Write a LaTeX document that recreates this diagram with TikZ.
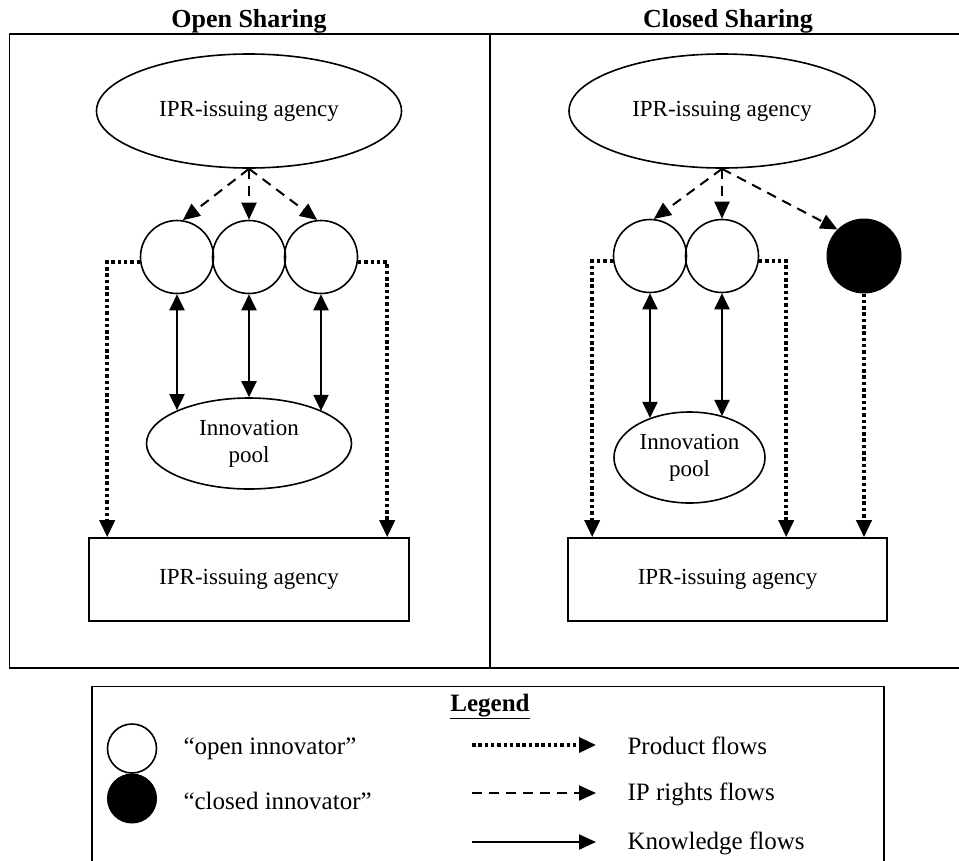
\documentclass[tikz,border=0pt]{standalone}
\usepackage{fontspec}
\setmainfont{Liberation Serif}
\usetikzlibrary{arrows.meta,shapes.geometric,calc}
\newcommand\mtxt{\fontsize{23}{27}\selectfont}
\newcommand\ltxt{\fontsize{25}{28}\selectfont}
\begin{document}
\begin{tikzpicture}[x=1pt,y=-1pt,
  arrowend/.style={-{Triangle[length=17pt,width=15pt]}},
  twoends/.style={{Triangle[length=16pt,width=15pt]}-{Triangle[length=16pt,width=15pt]}},
  prod/.style={line width=3.5pt, dash pattern=on 3.5pt off 2.8pt, arrowend},
  ipr/.style={line width=2pt, dash pattern=on 10pt off 7pt, arrowend},
  know/.style={line width=2pt, twoends},
  framestyle/.style={line width=1.8pt},
  agency/.style={ellipse, draw, line width=1.6pt, inner sep=0pt, minimum width=305pt, minimum height=114pt, font=\mtxt},
  poolnode/.style={ellipse, draw, line width=1.6pt, inner sep=0pt, minimum height=91pt, align=center, font=\mtxt},
  innov/.style={circle, draw, line width=1.6pt, inner sep=0pt, minimum size=73pt},
  closedinnov/.style={circle, fill=black, draw, line width=1pt, inner sep=0pt, minimum size=74pt},
  rectbox/.style={rectangle, draw, line width=1.6pt, inner sep=0pt, minimum width=320pt, minimum height=83pt, font=\mtxt},
  titlestyle/.style={font=\bfseries\fontsize{26}{30}\selectfont}
]
\useasboundingbox (0,0) rectangle (959,860);

% frames
\draw[framestyle] (965,34) -- (9.5,34) -- (9.5,668) -- (965,668);
\draw[framestyle] (490,34) -- (490,668);

% titles
\node[titlestyle, anchor=base] (t1) at (249,27) {Open Sharing};
\node[titlestyle, anchor=base] (t2) at (728,27) {Closed Sharing};

% ---------------- Open sharing
\node[agency] (oa) at (249,111) {IPR-issuing agency};
\node[innov] (o1) at (177,257) {};
\node[innov] (o2) at (249,257) {};
\node[innov] (o3) at (321,257) {};
\node[poolnode, minimum width=205pt] (op) at (249,443.5) {Innovation\\pool};
\node[rectbox] (or) at (249,579.5) {IPR-issuing agency};

\draw[ipr] (oa.south) -- (o1.81);
\draw[ipr] (oa.south) -- (o2.north);
\draw[ipr] (oa.south) -- (o3.96);

\draw[know] (o1.south) -- (o1.south |- op.155.8);
\draw[know] (o2.south) -- (o2.south |- op.north);
\draw[know] (o3.south) -- (o3.south |- op.24);

\draw[prod] (o1.188) -| ($(or.north west)+(19,0)$);
\draw[prod] (o3.-8) -| ($(or.north west)+(299,0)$);

% ---------------- Closed sharing
\node[agency, minimum width=306pt] (ca) at (722,111) {IPR-issuing agency};
\node[innov] (c1) at (650,256) {};
\node[innov] (c2) at (722,256) {};
\node[closedinnov] (ck) at (864,256) {};
\node[poolnode, minimum width=151pt] (cp) at (689.5,457.5) {Innovation\\pool};
\node[rectbox, minimum width=319pt] (cr) at (727.5,579.5) {IPR-issuing agency};

\draw[ipr] (ca.south) -- (c1.84);
\draw[ipr] (ca.south) -- (c2.north);
\draw[ipr] (ca.south) -- (ck.135);

\draw[know] (c1.south) -- (c1.south |- cp.135.5);
\draw[know] (c2.south) -- (c2.south |- cp.51.7);

\draw[prod] (c1.188) -| ($(cr.north west)+(25,0)$);
\draw[prod] (c2.-8) -| ($(cr.north west)+(219,0)$);
\draw[prod] (ck.south) -- (ck.south |- cr.north);

% ---------------- Legend
\draw[framestyle] (92,866) -- (92,686.5) -- (884,686.5) -- (884,866);
\node[font=\bfseries\ltxt, anchor=base] (lg) at (490,711) {\underline{Legend}};
\node[innov, minimum size=49pt] (lo) at (132,748.5) {};
\node[closedinnov, minimum size=49pt] (lc) at (132,798.5) {};
\node[font=\ltxt, anchor=west] (lot) at (180,749) {“open innovator”};
\node[font=\ltxt, anchor=west] (lct) at (180,801) {“closed innovator”};

\coordinate (p1) at (472,745);
\coordinate (p2) at (596,745);
\coordinate (i1) at (472,793);
\coordinate (i2) at (596,793);
\coordinate (k1) at (472,842);
\coordinate (k2) at (596,842);
\draw[prod] (p1) -- (p2);
\draw[ipr] (i1) -- (i2);
\draw[line width=2pt, arrowend] (k1) -- (k2);
\node[font=\ltxt, anchor=west] (pt) at (624,746) {Product flows};
\node[font=\ltxt, anchor=west] (it) at (624,794) {IP rights flows};
\node[font=\ltxt, anchor=west] (kt) at (624,843) {Knowledge flows};
\end{tikzpicture}
\end{document}
